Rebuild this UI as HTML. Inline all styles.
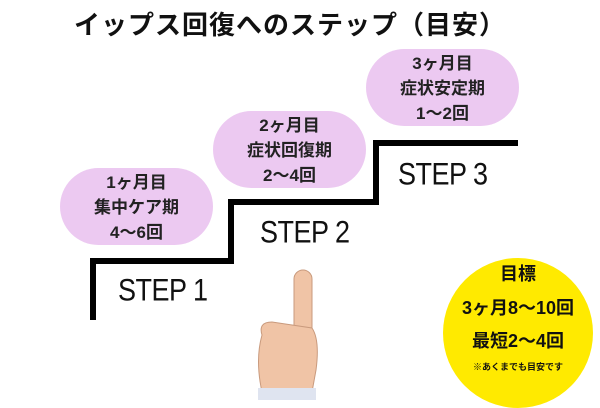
<!DOCTYPE html>
<html><head><meta charset="utf-8"><style>
body{margin:0;width:600px;height:400px;background:#fff;position:relative;overflow:hidden;font-family:"Liberation Sans","Noto Sans CJK JP",sans-serif}
.t{position:absolute;left:0;top:5px;width:580px;text-align:center;font-size:26px;font-weight:bold;color:#111;letter-spacing:1px}
.b{position:absolute;width:153px;height:77px;border-radius:39px;background:#ecc9f1;text-align:center;font-weight:bold;font-size:17px;line-height:25px;color:#222;box-sizing:border-box;padding-top:2px}
.s{position:absolute;font-size:27px;color:#111;transform:scaleY(1.18);transform-origin:left top;letter-spacing:-0.5px}
.c{position:absolute;left:443px;top:258px;width:150px;height:150px;border-radius:50%;background:#ffea00;text-align:center;font-weight:bold;color:#111}
</style></head><body>
<div class="t">イップス回復へのステップ（目安）</div>
<svg width="600" height="400" style="position:absolute;left:0;top:0">
<polyline points="93,320 93,261 231,261 231,202 376,202 376,143 518,143" fill="none" stroke="#000" stroke-width="6"/>
<g fill="#f0c4a6" stroke="#c99a7d" stroke-width="1">
<rect x="294" y="270" width="18" height="80" rx="9"/>
<path d="M262,335 Q258,322 272,322 L312,328 Q320,340 316,370 L312,392 L262,392 Q255,360 262,335Z"/>
</g>
<rect x="258" y="388" width="58" height="12" fill="#dfe4f0"/>
</svg>
<div class="b" style="left:60px;top:168px">1ヶ月目<br>集中ケア期<br>4〜6回</div>
<div class="b" style="left:213px;top:111px">2ヶ月目<br>症状回復期<br>2〜4回</div>
<div class="b" style="left:366px;top:49px">3ヶ月目<br>症状安定期<br>1〜2回</div>
<div class="s" style="left:118px;top:272px">STEP 1</div>
<div class="s" style="left:260px;top:214px">STEP 2</div>
<div class="s" style="left:398px;top:156px">STEP 3</div>
<div class="c">
<div style="position:absolute;top:2px;width:150px;font-size:18px">目標</div>
<div style="position:absolute;top:36px;width:150px;font-size:18px">3ヶ月8〜10回</div>
<div style="position:absolute;top:69px;width:150px;font-size:18px">最短2〜4回</div>
<div style="position:absolute;top:102px;width:150px;font-size:9px">※あくまでも目安です</div>
</div>
</body></html>
